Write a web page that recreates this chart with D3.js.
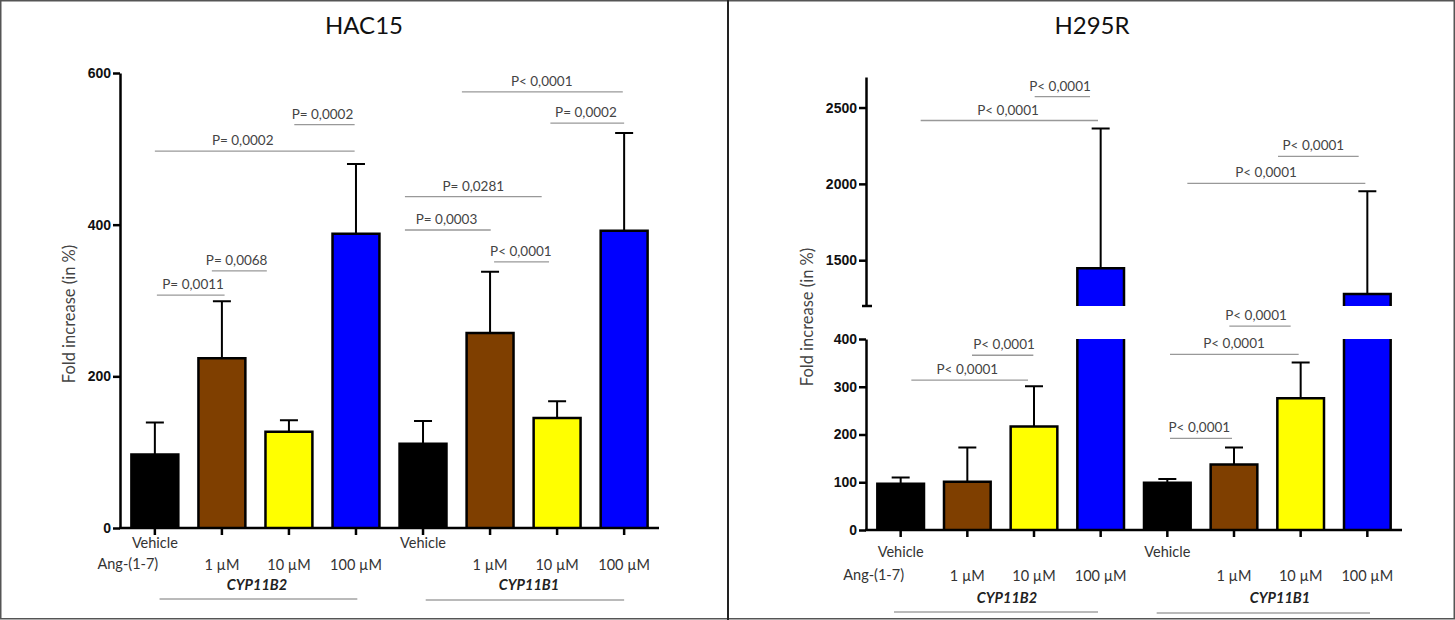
<!DOCTYPE html>
<html>
<head>
<meta charset="utf-8">
<script src="https://cdn.jsdelivr.net/npm/d3@7"></script>
<style>
  body { margin: 0; background: #fff; }
  svg { display: block; }
</style>
</head>
<body>
<svg id="fig" width="1455" height="620"></svg>
<script>
// ---- data -------------------------------------------------------------
const genes = ["CYP11B2", "CYP11B1"];
const doses = ["Vehicle", "1 µM", "10 µM", "100 µM"];
const categories = genes.flatMap(g => doses.map(d => g + " " + d));

// Fold increase (in %), mean and top of error bar
const hac15Mean  = [97, 224, 127, 388, 111, 257, 145, 392];
const hac15Upper = [139, 299, 142, 480, 141, 338, 167, 521];
const h295rMean  = [97, 101, 217, 1448, 99, 137, 276, 1278];
const h295rUpper = [110, 173, 301, 2363, 107, 173, 351, 1952];

// Axis tick values
const hac15Ticks = [0, 200, 400, 600];
const h295rLowTicks = [0, 100, 200, 300, 400];
const h295rHighTicks = [1500, 2000, 2500];

// Pairwise comparisons: bar span (category index units), bracket level (y units), label
const hac15Pairs = [
  { from: 0.03, to: 1.04, level: 307, at: 0.57, label: "P= 0,0011" },
  { from: 0.85, to: 1.67, level: 339, at: 1.22, label: "P= 0,0068" },
  { from: 0.00, to: 2.98, level: 497, at: 1.31, label: "P= 0,0002" },
  { from: 2.08, to: 2.98, level: 532, at: 2.50, label: "P= 0,0002" },
  { from: 4.58, to: 6.98, level: 575, at: 5.77, label: "P< 0,0001" },
  { from: 5.90, to: 7.00, level: 534, at: 6.43, label: "P= 0,0002" },
  { from: 3.73, to: 5.77, level: 437, at: 4.75, label: "P= 0,0281" },
  { from: 3.73, to: 5.01, level: 393, at: 4.35, label: "P= 0,0003" },
  { from: 5.06, to: 5.88, level: 351, at: 5.46, label: "P< 0,0001" }
];
const h295rPairs = [
  { from: 2.01, to: 2.84, level: 2572, at: 2.39, label: "P< 0,0001" },
  { from: 0.30, to: 2.96, level: 2415, at: 1.61, label: "P< 0,0001" },
  { from: 1.07, to: 1.99, level: 366,  at: 1.55, label: "P< 0,0001" },
  { from: 0.16, to: 1.91, level: 314,  at: 1.00, label: "P< 0,0001" },
  { from: 5.66, to: 6.87, level: 2180, at: 6.19, label: "P< 0,0001" },
  { from: 4.30, to: 6.97, level: 2003, at: 5.48, label: "P< 0,0001" },
  { from: 4.93, to: 5.85, level: 427,  at: 5.33, label: "P< 0,0001" },
  { from: 4.04, to: 5.97, level: 368,  at: 5.00, label: "P< 0,0001" },
  { from: 4.04, to: 4.97, level: 192,  at: 4.48, label: "P< 0,0001" }
];

// ---- styling ------------------------------------------------------------
const doseColors = ["#000000", "#7f3f00", "#ffff00", "#0000ff"];
const TEXT_FONT = "Lato, 'Open Sans', sans-serif";
const NUM_FONT = "'Liberation Sans', Arial, sans-serif";

const svg = d3.select("#fig");

// outer frame and panel divider
svg.append("rect").attr("x", 0.75).attr("y", 0.75).attr("width", 1453.5).attr("height", 618)
  .attr("fill", "none").attr("stroke", "#555").attr("stroke-width", 1.5);
svg.append("line").attr("x1", 728).attr("x2", 728).attr("y1", 0).attr("y2", 620)
  .attr("stroke", "#222").attr("stroke-width", 2);

function drawPanel(cfg) {
  const g = svg.append("g");
  const x = d3.scaleBand().domain(categories).range([cfg.x0, cfg.x1])
    .paddingInner(0.3).paddingOuter(0.17);
  const cx = i => x(categories[i]) + x.bandwidth() / 2;
  const idx = d3.scaleLinear().domain([0, 7]).range([cx(0), cx(7)]);
  const y = cfg.y;
  const yBase = y(0);

  // title
  g.append("text").attr("x", cfg.titleX).attr("y", 34).attr("text-anchor", "middle")
    .attr("font-family", TEXT_FONT).attr("font-size", 24).attr("fill", "#111")
    .text(cfg.title);

  // y axis label
  g.append("text")
    .attr("transform", `translate(${cfg.yLabelX},${cfg.yLabelY}) rotate(-90)`)
    .attr("text-anchor", "middle").attr("font-family", TEXT_FONT).attr("font-size", 16.5)
    .attr("fill", "#444").text("Fold increase (in %)");

  // bars
  categories.forEach((c, i) => {
    const v = cfg.mean[i];
    const bx = x(c), bw = x.bandwidth();
    const color = doseColors[i % 4];
    if (cfg.broken && v > cfg.breakLow) {
      // lower piece up to the break
      const yt = cfg.yLow(cfg.breakLow);
      g.append("rect").attr("x", bx).attr("y", yt).attr("width", bw).attr("height", yBase - yt)
        .attr("fill", color);
      g.append("path").attr("d", `M${bx},${yBase}V${yt}M${bx + bw},${yt}V${yBase}`)
        .attr("stroke", "#000").attr("stroke-width", 2.5).attr("fill", "none");
      // upper piece from the break
      const yb = cfg.yHigh(cfg.breakHigh), yv = cfg.yHigh(v);
      g.append("rect").attr("x", bx).attr("y", yv).attr("width", bw).attr("height", yb - yv)
        .attr("fill", color);
      g.append("path").attr("d", `M${bx},${yb}V${yv}H${bx + bw}V${yb}`)
        .attr("stroke", "#000").attr("stroke-width", 2.5).attr("fill", "none");
    } else {
      const yv = y(v);
      g.append("rect").attr("x", bx).attr("y", yv).attr("width", bw).attr("height", yBase - yv)
        .attr("fill", color);
      g.append("path").attr("d", `M${bx},${yBase}V${yv}H${bx + bw}V${yBase}`)
        .attr("stroke", "#000").attr("stroke-width", 2.5).attr("fill", "none");
    }
    // upper error bar
    const ym = y(v), yu = y(cfg.upper[i]), xc = cx(i);
    g.append("path").attr("d", `M${xc},${ym}V${yu}M${xc - 9},${yu}H${xc + 9}`)
      .attr("stroke", "#000").attr("stroke-width", 2).attr("fill", "none");
  });

  // x axis
  g.append("line").attr("x1", cfg.x0 - 1).attr("x2", cfg.x1).attr("y1", yBase).attr("y2", yBase)
    .attr("stroke", "#000").attr("stroke-width", 2.5);
  categories.forEach((c, i) => {
    g.append("line").attr("x1", cx(i)).attr("x2", cx(i)).attr("y1", yBase).attr("y2", yBase + 7)
      .attr("stroke", "#000").attr("stroke-width", 2.5);
  });

  // y axis
  cfg.drawYAxis(g);

  // x tick labels
  const lab = (tx, ty, t) => g.append("text").attr("x", tx).attr("y", ty)
    .attr("text-anchor", "middle").attr("font-family", TEXT_FONT).attr("font-size", 14.5)
    .attr("fill", "#333").text(t);
  categories.forEach((c, i) => {
    const d = doses[i % 4];
    if (d === "Vehicle") lab(cx(i), cfg.row1, d);
    else lab(cx(i), cfg.row2, d);
  });
  lab(cx(0) - 27, cfg.row2 - 1, "Ang-(1-7)");

  // gene group labels with underline
  cfg.groupSpans.forEach((s, k) => {
    g.append("text").attr("x", s.tx).attr("y", cfg.groupY).attr("text-anchor", "middle")
      .attr("font-family", TEXT_FONT).attr("font-size", 14.5).attr("font-weight", "bold")
      .attr("font-style", "italic").attr("fill", "#222").text(genes[k]);
    g.append("line").attr("x1", idx(s.from)).attr("x2", idx(s.to))
      .attr("y1", cfg.groupY + 9 + k).attr("y2", cfg.groupY + 9 + k)
      .attr("stroke", "#777").attr("stroke-width", 1.2);
  });

  // significance brackets
  cfg.pairs.forEach(p => {
    const ly = y(p.level);
    g.append("line").attr("x1", idx(p.from)).attr("x2", idx(p.to)).attr("y1", ly).attr("y2", ly)
      .attr("stroke", "#999").attr("stroke-width", 1.3);
    g.append("text").attr("x", idx(p.at)).attr("y", ly - 6).attr("text-anchor", "middle")
      .attr("font-family", TEXT_FONT).attr("font-size", 13.5).attr("fill", "#444")
      .text(p.label);
  });
}

function styleAxis(sel) {
  sel.select(".domain").attr("stroke", "#000").attr("stroke-width", 2.5);
  sel.selectAll(".tick line").attr("stroke", "#000").attr("stroke-width", 2.5);
  sel.selectAll(".tick text").attr("font-family", NUM_FONT).attr("font-size", 14)
    .attr("font-weight", "bold").attr("fill", "#111");
}

const intFormat = d3.format("d");

// ---- HAC15 ----------------------------------------------------------------
const yHac = d3.scaleLinear().domain([0, 600]).range([528, 73]);
drawPanel({
  title: "HAC15", titleX: 364,
  x0: 120, x1: 659,
  y: yHac,
  mean: hac15Mean, upper: hac15Upper,
  pairs: hac15Pairs,
  yLabelX: 75, yLabelY: 314,
  row1: 548, row2: 570, groupY: 590,
  groupSpans: [{ from: 0.07, to: 3.02, tx: 257 }, { from: 4.04, to: 7.0, tx: 529 }],
  drawYAxis: g => {
    const ax = g.append("g").attr("transform", "translate(120,0)")
      .call(d3.axisLeft(yHac).tickValues(hac15Ticks).tickFormat(intFormat)
        .tickSize(7).tickSizeOuter(0).tickPadding(2));
    styleAxis(ax);
  }
});

// ---- H295R (broken y axis) -------------------------------------------------
const yLow = d3.scaleLinear().domain([0, 400]).range([530, 339]);
const yHigh = d3.scaleLinear().domain([1200, 2700]).range([306, 77]);
const yBroken = v => (v >= 1200 ? yHigh(v) : yLow(v));
drawPanel({
  title: "H295R", titleX: 1092,
  x0: 866, x1: 1402,
  y: yBroken, yLow, yHigh, broken: true, breakLow: 400, breakHigh: 1200,
  mean: h295rMean, upper: h295rUpper,
  pairs: h295rPairs,
  yLabelX: 813, yLabelY: 317,
  row1: 557, row2: 581, groupY: 603,
  groupSpans: [{ from: -0.1, to: 2.96, tx: 1007 }, { from: 3.84, to: 7.04, tx: 1280 }],
  drawYAxis: g => {
    const lo = g.append("g").attr("transform", "translate(866,0)")
      .call(d3.axisLeft(yLow).tickValues(h295rLowTicks).tickFormat(intFormat)
        .tickSize(7).tickSizeOuter(0).tickPadding(2));
    styleAxis(lo);
    const hi = g.append("g").attr("transform", "translate(866,0)")
      .call(d3.axisLeft(yHigh).tickValues(h295rHighTicks).tickFormat(intFormat)
        .tickSize(7).tickSizeOuter(0).tickPadding(2));
    styleAxis(hi);
    // end cap at the lower edge of the upper segment
    g.append("line").attr("x1", 862).attr("x2", 872).attr("y1", yHigh(1200)).attr("y2", yHigh(1200))
      .attr("stroke", "#000").attr("stroke-width", 2.5);
  }
});
</script>
</body>
</html>
